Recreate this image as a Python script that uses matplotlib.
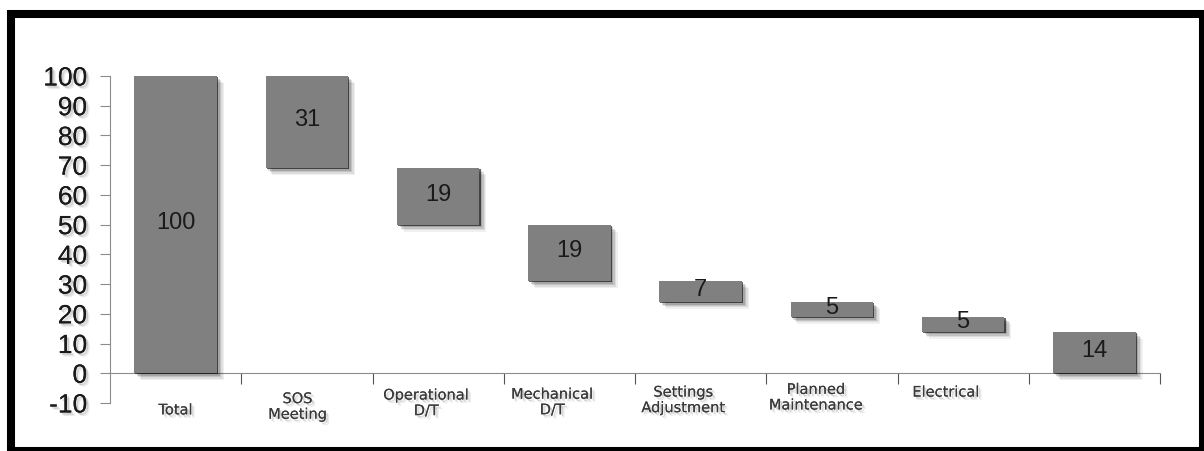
import matplotlib.pyplot as plt
import matplotlib.patheffects as pe
from matplotlib.patches import Rectangle

plt.rcParams['axes.unicode_minus'] = False

# downtime breakdown, drawn as a waterfall
categories = ['Total', 'SOS\nMeeting', 'Operational\nD/T', 'Mechanical\nD/T',
              'Settings\nAdjustment', 'Planned\nMaintenance', 'Electrical', '']
values = [100, 31, 19, 19, 7, 5, 5, 14]
yticks = list(range(-10, 101, 10))

# first and last bars stand on zero, the rest hang from the running total
bottoms = []
running = values[0]
for i, v in enumerate(values):
    if i == 0 or i == len(values) - 1:
        bottoms.append(0)
    else:
        running -= v
        bottoms.append(running)

# label nudges (data units) for the category names under the axis
label_dx = [0.0, -0.07, -0.09, -0.13, -0.13, -0.12, -0.13, 0.0]
label_y = [-9.8, -6.0, -4.8, -4.5, -3.8, -2.9, -3.8, -4.0]

bar_shadow = [pe.SimplePatchShadow(offset=(5, -5), shadow_rgbFace='k', alpha=0.06),
              pe.SimplePatchShadow(offset=(4, -4), shadow_rgbFace='k', alpha=0.08),
              pe.SimplePatchShadow(offset=(3, -3), shadow_rgbFace='k', alpha=0.12),
              pe.SimplePatchShadow(offset=(2, -2), shadow_rgbFace='k', alpha=0.15),
              pe.SimplePatchShadow(offset=(0.8, -0.8), shadow_rgbFace='k', alpha=0.6),
              pe.Normal()]
text_shadow = [pe.withSimplePatchShadow(offset=(2.5, -2.5), shadow_rgbFace='k', alpha=0.08),
               pe.withSimplePatchShadow(offset=(1.5, -1.5), shadow_rgbFace='k', alpha=0.15)]

fig = plt.figure(figsize=(12.04, 4.52), dpi=100)
ax = fig.add_axes([110 / 1204, 48 / 452, 1050 / 1204, 327 / 452])

x = list(range(len(values)))
bars = ax.bar(x, values, bottom=bottoms, width=0.63, color='#808080', zorder=3)
for b in bars:
    b.set_path_effects(bar_shadow)

for xi, v, b0 in zip(x, values, bottoms):
    ax.annotate(str(v), (xi, b0 + v / 2), xytext=(0, 2), textcoords='offset points',
                ha='center', va='center', fontsize=17, family='Liberation Sans',
                color='#1a1a1a', zorder=4)

for xi, name, dx, ly in zip(x, categories, label_dx, label_y):
    ax.text(xi + dx, ly, name, ha='center', va='top', fontsize=10.5,
            family='DejaVu Sans', color='#3a3a3a', linespacing=1.05,
            path_effects=text_shadow, clip_on=False)

ax.set_xlim(-0.5, len(values) - 0.5)
ax.set_ylim(-10, 100)
ax.set_yticks(yticks)
ax.set_xticks([i + 0.5 for i in x])
ax.set_xticklabels([])

for s in ['top', 'right']:
    ax.spines[s].set_visible(False)
ax.spines['bottom'].set_position(('data', 0))
ax.spines['bottom'].set_color('#8c8c8c')
ax.spines['left'].set_color('#8c8c8c')
ax.tick_params(axis='y', length=7.5, width=0.8, color='#8c8c8c', pad=9,
               labelsize=19, labelcolor='#1a1a1a')
ax.tick_params(axis='x', length=8, width=0.8, color='#555555')
for lbl in ax.get_yticklabels():
    lbl.set_family('Liberation Sans')
    lbl.set_path_effects(text_shadow)

# thick black frame around the whole chart
fig.patches.append(Rectangle((11 / 1204, 0 / 452), 1192 / 1204, 437.5 / 452,
                             transform=fig.transFigure, fill=False,
                             edgecolor='black', linewidth=5.8))

fig.savefig('out.png', dpi=100)
